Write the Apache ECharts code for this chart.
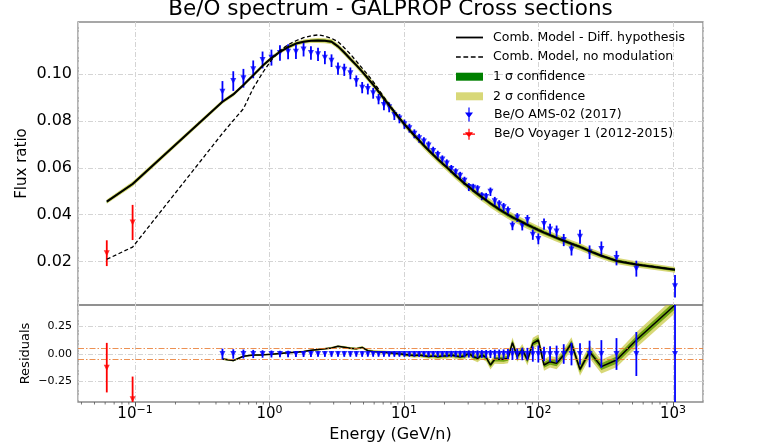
<!DOCTYPE html>
<html>
<head>
<meta charset="utf-8">
<script src="https://cdn.jsdelivr.net/npm/echarts@6/dist/echarts.min.js"></script>
<style>
html, body { margin: 0; padding: 0; background: #fff; }
#chart { width: 781px; height: 446px; }
</style>
</head>
<body>
<div id="chart"></div>
<script>
// AMS-02 Be/O points (GeV/n)
const amsEnergy = [0.447, 0.538, 0.640, 0.757, 0.888, 1.034, 1.196, 1.375, 1.573, 1.792,
  2.033, 2.295, 2.581, 2.892, 3.230, 3.596, 3.993, 4.420, 4.888, 5.383,
  5.90, 6.47, 7.09, 7.76, 8.48, 9.25, 10.07, 10.97, 11.94, 12.96,
  14.06, 15.23, 16.48, 17.83, 19.28, 20.82, 22.47, 24.24, 26.14, 28.16,
  30.34, 32.68, 35.21, 37.90, 40.80, 43.92, 47.30, 51.04, 55.04, 59.29,
  64.03, 69.51, 75.75, 82.74, 90.72, 99.71, 109.9, 121.9, 136.3, 154.0,
  175.9, 203.5, 239.7, 293.4, 380.1, 533.9, 1035];
const amsFlux = [0.0925, 0.0970, 0.0982, 0.1020, 0.1060, 0.1070, 0.1090, 0.1095, 0.1095, 0.1105,
  0.1090, 0.1084, 0.1070, 0.1057, 0.1023, 0.1018, 0.1003, 0.0970, 0.0942, 0.0936,
  0.0918, 0.0893, 0.0868, 0.0858, 0.0825, 0.0810, 0.0786, 0.0769, 0.0745, 0.0726,
  0.0712, 0.0695, 0.0672, 0.0655, 0.0636, 0.0619, 0.0595, 0.0581, 0.0566, 0.0545,
  0.0518, 0.0515, 0.0509, 0.0479, 0.0476, 0.0498, 0.0458, 0.0444, 0.0432, 0.0416,
  0.0353, 0.0388, 0.0353, 0.0378, 0.0315, 0.0297, 0.0360, 0.0337, 0.0329, 0.0292,
  0.0252, 0.0306, 0.0240, 0.0254, 0.0215, 0.0170, 0.0095];
const amsErr = [0.0045, 0.0042, 0.0040, 0.0038, 0.0036, 0.0034, 0.0033, 0.0032, 0.0031, 0.0030,
  0.0029, 0.0028, 0.0028, 0.0027, 0.0026, 0.0026, 0.0025, 0.0024, 0.0024, 0.0023,
  0.0023, 0.0022, 0.0022, 0.0021, 0.0021, 0.0020, 0.0020, 0.0019, 0.0019, 0.0019,
  0.0018, 0.0018, 0.0018, 0.0018, 0.0017, 0.0017, 0.0017, 0.0017, 0.0017, 0.0017,
  0.0017, 0.0017, 0.0017, 0.0017, 0.0017, 0.0018, 0.0018, 0.0018, 0.0018, 0.0019,
  0.0019, 0.0019, 0.0020, 0.0021, 0.0022, 0.0023, 0.0024, 0.0024, 0.0025, 0.0026,
  0.0026, 0.0030, 0.0029, 0.0032, 0.0031, 0.0034, 0.0048];
const amsResidual = [0, 0, 0, 0, 0, 0, 0, 0, 0, 0, 0, 0, 0, 0, 0, 0, 0, 0, 0, 0,
  0, 0, 0, 0, 0, 0, 0, 0, 0, 0, 0, 0, 0, 0, 0, 0, 0, 0, 0, 0,
  0, 0, 0, 0, 0, 0, 0, 0, 0, 0, 0, 0, 0, 0, 0, 0, 0, 0, 0, 0,
  0, 0, 0, 0, 0, 0, 0];

// Voyager 1 points
const voyEnergy = [0.0617, 0.096];
const voyFlux = [0.0236, 0.0367];
const voyErr = [0.0055, 0.0075];
const voyRes = [-0.124, -0.41];
const voyResErr = [0.225, 0.205];

// model at Voyager + AMS energies
const modelFlux = [0.0456, 0.0531,
  0.0882, 0.0913, 0.0953, 0.0995, 0.1035, 0.1068, 0.1095, 0.1115, 0.1130, 0.1138,
  0.1142, 0.1143, 0.1142, 0.1138, 0.1118, 0.1092, 0.1064, 0.1038, 0.1010, 0.0982,
  0.0955, 0.0925, 0.0895, 0.0866, 0.0838, 0.0811, 0.0786, 0.0762, 0.0738, 0.0717,
  0.0695, 0.0675, 0.0656, 0.0637, 0.0619, 0.0602, 0.0584, 0.0566, 0.0550, 0.0533,
  0.0519, 0.0503, 0.0489, 0.0475, 0.0462, 0.0448, 0.0436, 0.0423, 0.0411, 0.0400,
  0.0389, 0.0379, 0.0368, 0.0357, 0.0346, 0.0335, 0.0324, 0.0313, 0.0301, 0.0289,
  0.0276, 0.0263, 0.0245, 0.0225, 0.0203, 0.0188, 0.0165];
const noModFlux = [0.0210, 0.0262,
  0.0747, 0.0802, 0.0852, 0.0940, 0.1005, 0.1060, 0.1100, 0.1125, 0.1142, 0.1155,
  0.1163, 0.1167, 0.1162, 0.1152, 0.1138, 0.1112, 0.1085, 0.1055, 0.1025, 0.0997,
  0.0968, 0.0935, 0.0902, 0.0871, 0.0841, 0.0813, 0.0787, 0.0763, 0.0739, 0.0718,
  0.0696, 0.0676, 0.0657, 0.0638, 0.0620, 0.0603, 0.0585, 0.0567, 0.0551, 0.0534,
  0.0520, 0.0504, 0.0490, 0.0476, 0.0463, 0.0449, 0.0437, 0.0424, 0.0412, 0.0401,
  0.0390, 0.0380, 0.0369, 0.0358, 0.0347, 0.0336, 0.0325, 0.0314, 0.0302, 0.0290,
  0.0277, 0.0264, 0.0246, 0.0226, 0.0204, 0.0189, 0.0166];
// relative half-widths of the confidence bands
const band2 = [0.020, 0.020,
  0.010, 0.009, 0.008, 0.008, 0.008, 0.008, 0.008, 0.008, 0.008, 0.008,
  0.008, 0.009, 0.009, 0.010, 0.010, 0.011, 0.011, 0.012, 0.012, 0.013,
  0.014, 0.014, 0.015, 0.016, 0.016, 0.017, 0.018, 0.018, 0.019, 0.020,
  0.021, 0.022, 0.023, 0.024, 0.025, 0.026, 0.027, 0.028, 0.029, 0.030,
  0.032, 0.033, 0.035, 0.036, 0.038, 0.040, 0.041, 0.042, 0.043, 0.045,
  0.046, 0.047, 0.048, 0.049, 0.050, 0.051, 0.052, 0.053, 0.054, 0.055,
  0.056, 0.058, 0.060, 0.062, 0.065, 0.070, 0.075];
const band1 = [0.010, 0.010,
  0.005, 0.005, 0.004, 0.004, 0.004, 0.004, 0.004, 0.004, 0.004, 0.004,
  0.004, 0.005, 0.005, 0.005, 0.005, 0.006, 0.006, 0.006, 0.006, 0.007,
  0.007, 0.007, 0.008, 0.008, 0.008, 0.009, 0.009, 0.009, 0.010, 0.010,
  0.011, 0.011, 0.012, 0.012, 0.013, 0.013, 0.014, 0.014, 0.015, 0.015,
  0.016, 0.017, 0.018, 0.018, 0.019, 0.020, 0.021, 0.021, 0.022, 0.023,
  0.023, 0.024, 0.024, 0.025, 0.025, 0.026, 0.026, 0.027, 0.027, 0.028,
  0.028, 0.029, 0.030, 0.031, 0.033, 0.035, 0.038];
// model residuals at AMS energies
const modelRes = [-0.045, -0.060, -0.020, -0.010, -0.008, -0.002, 0.005, 0.012, 0.016, 0.022,
  0.033, 0.040, 0.048, 0.055, 0.070, 0.062, 0.052, 0.048, 0.060, 0.030,
  0.022, 0.020, 0.016, 0.012, 0.006, 0.003, -0.004, -0.010, -0.014, -0.010,
  -0.016, -0.022, -0.018, -0.025, -0.018, -0.018, -0.009, -0.018, -0.024, -0.018,
  0.006, -0.024, -0.039, -0.009, -0.030, -0.100, -0.048, -0.048, -0.048, -0.039,
  0.103, -0.024, 0.042, -0.055, 0.097, 0.127, -0.100, -0.070, -0.085, -0.009,
  0.097, -0.140, 0.021, -0.115, -0.055, 0.127, 0.445];

const tolLines = [0.05, -0.05];
const fluxTicks = [0.02, 0.04, 0.06, 0.08, 0.10];
const resTicks = [-0.25, 0, 0.25];
const minorTicks = [0.04, 0.05, 0.06, 0.07, 0.08, 0.09, 0.2, 0.3, 0.4, 0.5, 0.6, 0.7, 0.8, 0.9,
  2, 3, 4, 5, 6, 7, 8, 9, 20, 30, 40, 50, 60, 70, 80, 90, 200, 300, 400, 500, 600, 700, 800, 900];

const X_MIN = 0.0377, X_MAX = 1671;
const Y_MIN = 0.0015, Y_MAX = 0.1222;
const R_MIN = -0.436, R_MAX = 0.445;

const FONT = 'DejaVu Sans';
const GRID_C = '#d4d4d4';
const DASHDOT = [5, 2, 1, 2];
const BLUE = '#0000ff', RED = '#ff0000', ORANGE = 'rgba(232,118,40,0.8)';
const C1 = '#008000', C2 = 'rgba(190,190,30,0.6)';

const modelEnergy = voyEnergy.concat(amsEnergy);
const ams = amsEnergy.slice(0);

function bandItem(lo, hi, color) {
  return function (params, api) {
    if (params.dataIndex !== 0) return null;
    const n = lo.length, pts = [];
    for (let i = 0; i < n; i++) pts.push(api.coord([lo[i][0], hi[i][1]]));
    for (let i = n - 1; i >= 0; i--) pts.push(api.coord([lo[i][0], lo[i][1]]));
    return { type: 'polygon', shape: { points: pts }, style: { fill: color } };
  };
}
function errItem(color, width) {
  return function (params, api) {
    const a = api.coord([api.value(0), api.value(1)]);
    const b = api.coord([api.value(0), api.value(2)]);
    return { type: 'line', shape: { x1: a[0], y1: a[1], x2: b[0], y2: b[1] },
      style: { stroke: color, lineWidth: width } };
  };
}

const topLo1 = modelEnergy.map((e, i) => [e, modelFlux[i] * (1 - band1[i])]);
const topHi1 = modelEnergy.map((e, i) => [e, modelFlux[i] * (1 + band1[i])]);
const topLo2 = modelEnergy.map((e, i) => [e, modelFlux[i] * (1 - band2[i])]);
const topHi2 = modelEnergy.map((e, i) => [e, modelFlux[i] * (1 + band2[i])]);
const resLo1 = ams.map((e, i) => [e, modelRes[i] - band1[i + 2]]);
const resHi1 = ams.map((e, i) => [e, modelRes[i] + band1[i + 2]]);
const resLo2 = ams.map((e, i) => [e, modelRes[i] - band2[i + 2]]);
const resHi2 = ams.map((e, i) => [e, modelRes[i] + band2[i + 2]]);

const N_MODEL = 'Comb. Model - Diff. hypothesis';
const N_NOMOD = 'Comb. Model, no modulation';
const N_S1 = '1 \u03c3 confidence';
const N_S2 = '2 \u03c3 confidence';
const N_AMS = 'Be/O AMS-02 (2017)';
const N_VOY = 'Be/O Voyager 1 (2012-2015)';

const chart = echarts.init(document.getElementById('chart'));

chart.setOption({
  animation: false,
  textStyle: { fontFamily: FONT },
  title: {
    text: 'Be/O spectrum - GALPROP Cross sections',
    left: 'center', top: -2, padding: 0,
    textStyle: { fontSize: 21.5, fontWeight: 'normal', color: '#000', fontFamily: FONT }
  },
  legend: [{
    left: 456, top: 31, padding: 0, orient: 'vertical', selectedMode: false,
    itemWidth: 27, itemHeight: 8, itemGap: 6.6,
    textStyle: { fontSize: 12.5, lineHeight: 12, color: '#000', fontFamily: FONT, padding: [0, 0, 0, 5] },
    data: [
      { name: N_MODEL, icon: 'path://M0,0h30v2h-30z' },
      { name: N_NOMOD, icon: 'path://M0,0h4.5v1.4h-4.5zM7,0h4.5v1.4h-4.5zM14,0h4.5v1.4h-4.5zM21,0h4.5v1.4h-4.5z' },
      { name: N_S1, icon: 'rect' },
      { name: N_S2, icon: 'rect' }
    ]
  }, {
    left: 462.5, top: 107.5, padding: 0, orient: 'vertical', selectedMode: false,
    itemWidth: 13, itemHeight: 14, itemGap: 5.7,
    textStyle: { fontSize: 12.5, lineHeight: 12, color: '#000', fontFamily: FONT, padding: [0, 0, 0, 13.5] },
    data: [
      { name: N_AMS, icon: 'path://M0,7h0.01v0.01h-0.01zM12.99,7h0.01v0.01h-0.01zM5.9,0h1.2v14h-1.2zM2.5,5h8l-4,5.5z' },
      { name: N_VOY, icon: 'path://M0.5,6.4h12v1.2h-12zM5.9,1.5h1.2v11h-1.2zM2.5,5h8l-4,5.3zM0,7h0.01v0.01h-0.01zM12.99,7h0.01v0.01h-0.01zM6.5,0h0.01v0.01h-0.01zM6.5,13.99h0.01v0.01h-0.01z' }
    ]
  }],
  grid: [
    { left: 78, right: 78, top: 22, height: 283, show: true, borderColor: '#8a8a8a', borderWidth: 1.3 },
    { left: 78, right: 78, top: 305, height: 97, show: true, borderColor: '#8a8a8a', borderWidth: 1.3 }
  ],
  xAxis: [{
    type: 'log', gridIndex: 0, min: X_MIN, max: X_MAX,
    axisLine: { show: false, onZero: false }, axisTick: { show: false }, axisLabel: { show: false },
    splitLine: { show: true, lineStyle: { color: GRID_C, type: DASHDOT, width: 1 } }
  }, {
    type: 'log', gridIndex: 1, min: X_MIN, max: X_MAX, position: 'bottom',
    name: 'Energy (GeV/n)', nameLocation: 'middle', nameGap: 25, nameMoveOverlap: false,
    nameTextStyle: { fontSize: 16, color: '#000', fontFamily: FONT },
    axisLine: { show: false, onZero: false },
    axisTick: { show: true, length: 4.5, lineStyle: { color: '#555', width: 1 } },
    axisLabel: {
      showMinLabel: false, showMaxLabel: false, margin: 3,
      formatter: function (v) {
        const e = Math.round(Math.log10(v));
        return '{b|10}{s|' + (e < 0 ? '\u2212' + (-e) : e) + '}';
      },
      rich: {
        b: { fontSize: 15, color: '#000', fontFamily: FONT },
        s: { fontSize: 11, color: '#000', fontFamily: FONT, padding: [0, 0, 8, 0] }
      }
    },
    splitLine: { show: true, lineStyle: { color: GRID_C, type: DASHDOT, width: 1 } }
  }],
  yAxis: [{
    type: 'value', gridIndex: 0, min: Y_MIN, max: Y_MAX,
    name: 'Flux ratio', nameLocation: 'middle', nameGap: 48, nameMoveOverlap: false,
    nameTextStyle: { fontSize: 15, color: '#000', fontFamily: FONT },
    axisLine: { show: false, onZero: false },
    axisTick: { show: false, customValues: fluxTicks },
    axisLabel: { customValues: fluxTicks, fontSize: 16, color: '#000', margin: 6,
      formatter: v => v.toFixed(2) },
    splitLine: { show: true, lineStyle: { color: GRID_C, type: DASHDOT, width: 1 } }
  }, {
    type: 'value', gridIndex: 1, min: R_MIN, max: R_MAX,
    name: 'Residuals', nameLocation: 'middle', nameGap: 46, nameMoveOverlap: false,
    nameTextStyle: { fontSize: 13, color: '#000', fontFamily: FONT },
    axisLine: { show: false, onZero: false },
    axisTick: { show: false, customValues: resTicks },
    axisLabel: { customValues: resTicks, fontSize: 11, color: '#000', margin: 6,
      formatter: v => (v < 0 ? '\u2212' : '') + Math.abs(v).toFixed(2) },
    splitLine: { show: true, lineStyle: { color: GRID_C, type: DASHDOT, width: 1 } }
  }],
  series: [
    // ---- top panel
    { type: 'custom', name: N_S1, xAxisIndex: 0, yAxisIndex: 0, clip: true,
      itemStyle: { color: C1 }, data: topLo1, renderItem: bandItem(topLo1, topHi1, C1) },
    { type: 'custom', name: N_S2, xAxisIndex: 0, yAxisIndex: 0, clip: true,
      itemStyle: { color: C2 }, data: topLo2, renderItem: bandItem(topLo2, topHi2, C2) },
    { type: 'line', name: N_NOMOD, xAxisIndex: 0, yAxisIndex: 0, symbol: 'none',
      itemStyle: { color: '#000' }, lineStyle: { color: '#000', width: 1.3, type: [4, 2.5] },
      data: modelEnergy.map((e, i) => [e, noModFlux[i]]) },
    { type: 'line', name: N_MODEL, xAxisIndex: 0, yAxisIndex: 0, symbol: 'none',
      itemStyle: { color: '#000' }, lineStyle: { color: '#000', width: 2 },
      data: modelEnergy.map((e, i) => [e, modelFlux[i]]) },
    { type: 'custom', name: N_AMS, xAxisIndex: 0, yAxisIndex: 0, itemStyle: { color: BLUE },
      encode: { x: 0, y: [1, 2] }, renderItem: errItem(BLUE, 1.8),
      data: ams.map((e, i) => [e, amsFlux[i] - amsErr[i], amsFlux[i] + amsErr[i]]) },
    { type: 'scatter', name: N_AMS, xAxisIndex: 0, yAxisIndex: 0, symbol: 'triangle',
      symbolRotate: 180, symbolSize: 6, itemStyle: { color: BLUE },
      data: ams.map((e, i) => [e, amsFlux[i]]) },
    { type: 'custom', name: N_VOY, xAxisIndex: 0, yAxisIndex: 0, itemStyle: { color: RED },
      encode: { x: 0, y: [1, 2] }, renderItem: errItem(RED, 1.8),
      data: voyEnergy.map((e, i) => [e, voyFlux[i] - voyErr[i], voyFlux[i] + voyErr[i]]) },
    { type: 'scatter', name: N_VOY, xAxisIndex: 0, yAxisIndex: 0, symbol: 'triangle',
      symbolRotate: 180, symbolSize: 6, itemStyle: { color: RED },
      data: voyEnergy.map((e, i) => [e, voyFlux[i]]) },
    // ---- residual panel
    { type: 'custom', name: N_S1, xAxisIndex: 1, yAxisIndex: 1, clip: true,
      itemStyle: { color: C1 }, data: resLo1, renderItem: bandItem(resLo1, resHi1, C1) },
    { type: 'custom', name: N_S2, xAxisIndex: 1, yAxisIndex: 1, clip: true,
      itemStyle: { color: C2 }, data: resLo2, renderItem: bandItem(resLo2, resHi2, C2) },
    { type: 'line', name: N_MODEL, xAxisIndex: 1, yAxisIndex: 1, symbol: 'none',
      itemStyle: { color: '#000' }, lineStyle: { color: '#000', width: 1.5 },
      data: ams.map((e, i) => [e, modelRes[i]]) },
    // +-5% reference lines
    ...tolLines.map((v, k) => ({
      type: 'line', name: 'tol' + k, xAxisIndex: 1, yAxisIndex: 1, symbol: 'none', silent: true, z: 3,
      lineStyle: { color: ORANGE, type: [6, 2, 1.5, 2], width: 1.2 }, itemStyle: { color: ORANGE },
      data: [[X_MIN, v], [X_MAX, v]]
    })),
    { type: 'custom', name: N_AMS, xAxisIndex: 1, yAxisIndex: 1, clip: true, z: 4, itemStyle: { color: BLUE },
      encode: { x: 0, y: [1, 2] }, renderItem: errItem(BLUE, 1.8),
      data: ams.map((e, i) => [e, amsResidual[i] - amsErr[i] / amsFlux[i], amsResidual[i] + amsErr[i] / amsFlux[i]]) },
    { type: 'scatter', name: N_AMS, xAxisIndex: 1, yAxisIndex: 1, symbol: 'triangle', z: 4,
      symbolRotate: 180, symbolSize: 6, itemStyle: { color: BLUE },
      data: ams.map((e, i) => [e, amsResidual[i]]) },
    { type: 'custom', name: N_VOY, xAxisIndex: 1, yAxisIndex: 1, clip: true, z: 4, itemStyle: { color: RED },
      encode: { x: 0, y: [1, 2] }, renderItem: errItem(RED, 1.8),
      data: voyEnergy.map((e, i) => [e, voyRes[i] - voyResErr[i], voyRes[i] + voyResErr[i]]) },
    { type: 'scatter', name: N_VOY, xAxisIndex: 1, yAxisIndex: 1, symbol: 'triangle', z: 4,
      symbolRotate: 180, symbolSize: 6, itemStyle: { color: RED },
      data: voyEnergy.map((e, i) => [e, voyRes[i]]) },
    // minor ticks of the log axis
    { type: 'scatter', name: 'minor', xAxisIndex: 1, yAxisIndex: 1, silent: true, clip: false,
      symbol: 'rect', symbolSize: [1, 2.6], symbolOffset: [0, 1.3], itemStyle: { color: '#555' },
      data: minorTicks.map(v => [v, R_MIN]) }
  ]
});
</script>
</body>
</html>
